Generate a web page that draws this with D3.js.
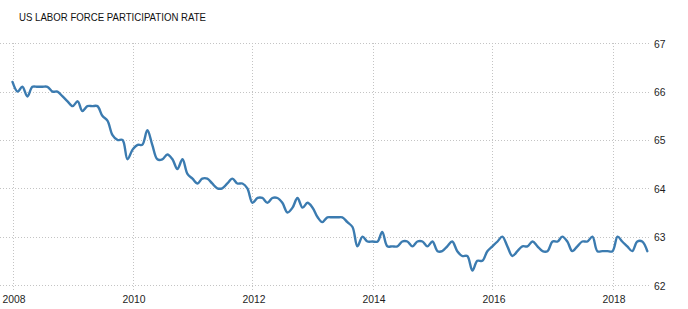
<!DOCTYPE html>
<html>
<head>
<meta charset="utf-8">
<script src="https://cdn.jsdelivr.net/npm/d3@7"></script>
<style>
  body { margin: 0; background: #fff; }
  svg { display: block; font-family: "Liberation Sans", Arial, sans-serif; }
  .grid line { stroke: #c4c4c4; stroke-width: 1; stroke-dasharray: 1,2; shape-rendering: crispEdges; }
  .lbl { fill: #1e1e1e; font-size: 11px; }
</style>
</head>
<body>
<div id="chart"></div>
<script>
// ── Data: monthly US labor force participation rate (%) ─────────────────────
const firstYear = 2008;
const rate2008 = [66.2, 66.0, 66.1, 65.9, 66.1, 66.1, 66.1, 66.1, 66.0, 66.0, 65.9, 65.8];
const rate2009 = [65.7, 65.8, 65.6, 65.7, 65.7, 65.7, 65.5, 65.4, 65.1, 65.0, 65.0, 64.6];
const rate2010 = [64.8, 64.9, 64.9, 65.2, 64.9, 64.6, 64.6, 64.7, 64.6, 64.4, 64.6, 64.3];
const rate2011 = [64.2, 64.1, 64.2, 64.2, 64.1, 64.0, 64.0, 64.1, 64.2, 64.1, 64.1, 64.0];
const rate2012 = [63.7, 63.8, 63.8, 63.7, 63.8, 63.8, 63.7, 63.5, 63.6, 63.8, 63.6, 63.7];
const rate2013 = [63.6, 63.4, 63.3, 63.4, 63.4, 63.4, 63.4, 63.3, 63.2, 62.8, 63.0, 62.9];
const rate2014 = [62.9, 62.9, 63.1, 62.8, 62.8, 62.8, 62.9, 62.9, 62.8, 62.9, 62.9, 62.8];
const rate2015 = [62.9, 62.7, 62.7, 62.8, 62.9, 62.7, 62.6, 62.6, 62.3, 62.5, 62.5, 62.7];
const rate2016 = [62.8, 62.9, 63.0, 62.8, 62.6, 62.7, 62.8, 62.8, 62.9, 62.8, 62.7, 62.7];
const rate2017 = [62.9, 62.9, 63.0, 62.9, 62.7, 62.8, 62.9, 62.9, 63.0, 62.7, 62.7, 62.7];
const rate2018 = [62.7, 63.0, 62.9, 62.8, 62.7, 62.9, 62.9, 62.7];

const yearTicks = [2008, 2010, 2012, 2014, 2016, 2018];
const valueTicks = [62, 63, 64, 65, 66, 67];
const title = 'US LABOR FORCE PARTICIPATION RATE';

// ── Build series ─────────────────────────────────────────────────────────────
const series = [];
[rate2008, rate2009, rate2010, rate2011, rate2012, rate2013,
 rate2014, rate2015, rate2016, rate2017, rate2018].forEach((yr, i) => {
  yr.forEach((v, m) => series.push({ date: new Date(firstYear + i, m, 1), value: v }));
});

// ── Chart ────────────────────────────────────────────────────────────────────
const W = 688, H = 309;
const svg = d3.select('#chart').append('svg').attr('width', W).attr('height', H);

const x = d3.scaleTime()
  .domain([new Date(2008, 0, 1), new Date(2018, 0, 1)])
  .range([12.5, 612.5]);
const y = d3.scaleLinear().domain([62, 67]).range([285, 43.3]);

const grid = svg.append('g').attr('class', 'grid');
grid.selectAll('.h').data(valueTicks).enter().append('line')
  .attr('x1', 0).attr('x2', 651)
  .attr('y1', d => Math.round(y(d)) + 0.5).attr('y2', d => Math.round(y(d)) + 0.5);
grid.selectAll('.v').data(yearTicks).enter().append('line')
  .attr('x1', d => Math.round(x(new Date(d, 0, 1))) + 0.5)
  .attr('x2', d => Math.round(x(new Date(d, 0, 1))) + 0.5)
  .attr('y1', 43).attr('y2', 290);

// y labels on the right (narrow, Tahoma-like)
svg.selectAll('.ylab').data(valueTicks).enter().append('text')
  .attr('class', 'lbl')
  .attr('x', 654)
  .attr('y', d => y(d) + 4.5)
  .attr('textLength', 11.5)
  .attr('lengthAdjust', 'spacingAndGlyphs')
  .text(d => d);

// x labels
svg.selectAll('.xlab').data(yearTicks).enter().append('text')
  .attr('class', 'lbl')
  .attr('x', d => x(new Date(d, 0, 1)) + 1.5 - 11.5)
  .attr('y', 303)
  .attr('textLength', 23)
  .attr('lengthAdjust', 'spacingAndGlyphs')
  .text(d => d);

// title
svg.append('text')
  .attr('x', 19).attr('y', 20.5)
  .attr('font-size', '10.3px')
  .attr('fill', '#111')
  .attr('textLength', 187)
  .attr('lengthAdjust', 'spacingAndGlyphs')
  .text(title);

// line
const line = d3.line()
  .x(d => x(d.date))
  .y(d => y(d.value))
  .curve(d3.curveCatmullRom.alpha(0.5));

svg.append('path')
  .datum(series)
  .attr('fill', 'none')
  .attr('stroke', '#3b7bb0')
  .attr('stroke-width', 2.4)
  .attr('stroke-linejoin', 'round')
  .attr('stroke-linecap', 'round')
  .attr('d', line);
</script>
</body>
</html>
